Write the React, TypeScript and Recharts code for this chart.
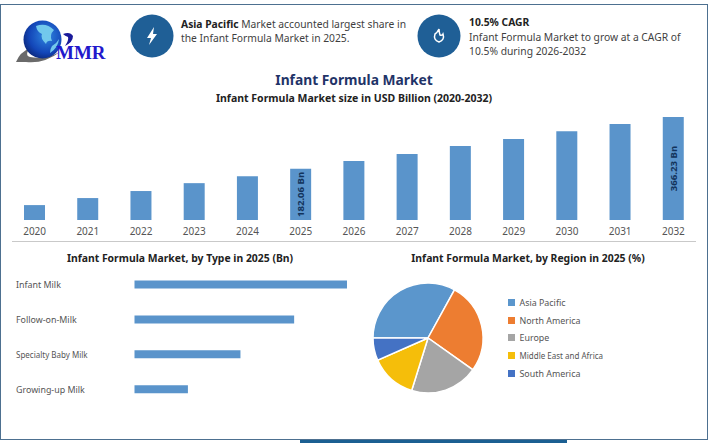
import {
  Bar,
  BarChart,
  Cell,
  LabelList,
  Legend,
  Pie,
  PieChart,
  XAxis,
  YAxis,
} from "recharts";

const years = ["2020", "2021", "2022", "2023", "2024", "2025", "2026", "2027", "2028", "2029", "2030", "2031", "2032"];
const marketSize = [53, 78, 103, 131, 156, 182.06, 210, 235, 263, 288, 316, 341, 366.23];
const sizeLabels = ["", "", "", "", "", "182.06 Bn", "", "", "", "", "", "", "366.23 Bn"];

const types = ["Infant Milk", "Follow-on-Milk", "Specialty Baby Milk", "Growing-up Milk"];
const typeValues = [72.8, 54.7, 36.3, 18.3];

const regions = ["Asia Pacific", "North America", "Europe", "Middle East and Africa", "South America"];
const regionShares = [33, 26.8, 20, 13.6, 6.6];
const regionColors = ["#5B96CC", "#ED7D31", "#A5A5A5", "#F5BE0A", "#4472C4"];

const FONT = "'Noto Sans', sans-serif";
const BAR_COLOR = "#5A94CB";

const sizeData = years.map((year, i) => ({ year, value: marketSize[i], label: sizeLabels[i] }));
const typeData = types.map((name, i) => ({ name, value: typeValues[i] }));
const regionData = regions.map((name, i) => ({ name, value: regionShares[i] }));

// the long labels are squeezed a bit in the original
const labelSize = (text: string) => (text.length > 18 ? 8 : 8.9);

function Txt({ x, y, size, weight, color, center, children }: any) {
  return (
    <div
      style={{
        position: "absolute",
        left: x,
        top: y,
        fontSize: size,
        fontWeight: weight ?? 400,
        color: color ?? "#3f3f3f",
        whiteSpace: "nowrap",
        lineHeight: 1,
        transform: center ? "translateX(-50%)" : undefined,
      }}
    >
      {children}
    </div>
  );
}

function TypeTick({ y, payload }: any) {
  return (
    <text x={16} y={y} dy={3} fontSize={labelSize(payload.value)} fontFamily={FONT} fill="#555" textAnchor="start">
      {payload.value}
    </text>
  );
}

function RegionLegend({ payload }: any) {
  return (
    <div>
      {(payload ?? []).map((item: any) => (
        <div key={item.value} style={{ display: "flex", alignItems: "center", height: 17.7, fontSize: labelSize(item.value), color: "#555" }}>
          <span style={{ width: 7, height: 7, background: item.color, marginRight: 4.5 }} />
          {item.value}
        </div>
      ))}
    </div>
  );
}

function SizeLabel({ x, y, width, height, value }: any) {
  if (!value) return null;
  const cx = x + width / 2;
  const cy = y + height / 2;
  return (
    <text
      x={cx}
      y={cy}
      dy={3.5}
      transform={`rotate(-90 ${cx} ${cy})`}
      textAnchor="middle"
      fontSize={9.6}
      fontWeight={700}
      fontFamily={FONT}
      fill="#12335c"
    >
      {value}
    </text>
  );
}

function Logo() {
  return (
    <svg width={110} height={70} style={{ position: "absolute", left: 0, top: 10 }}>
      <defs>
        <radialGradient id="globe" cx="0.6" cy="0.4" r="0.75">
          <stop offset="0" stopColor="#2f86e0" />
          <stop offset="0.6" stopColor="#1346b8" />
          <stop offset="1" stopColor="#081a60" />
        </radialGradient>
      </defs>
      <path d="M16 52 Q20 42 30 38 Q24 46 30 47 Q44 50 60 42 Q44 54 26 52 Q20 52 16 52Z" fill="#6a6a6a" />
      <circle cx={42.5} cy={29.5} r={19} fill="url(#globe)" />
      <path d="M36 16 Q46 12 54 20 Q49 25 52 31 Q47 30 46 34 Q40 28 42 24 Q37 22 36 16Z" fill="#72c8ec" />
      <path d="M52 36 Q57 33 59 29 Q58 38 50 43 Q50 39 52 36Z" fill="#72c8ec" />
      <path d="M63 24 Q70 21 73 26 Q73 32 65 36 Q69 30 68 27 Q65 26 63 24Z" fill="#1a1a9a" />
      <text x={56} y={49} fontFamily="'Liberation Serif', serif" fontWeight={700} fontSize={19} fill="#2218cc">
        MMR
      </text>
    </svg>
  );
}

export default function App() {
  return (
    <div style={{ position: "absolute", left: 0, top: 0, width: 711, height: 443, overflow: "hidden", background: "#fff", fontFamily: FONT }}>
      <div style={{ position: "absolute", left: 0, top: 4, width: 706, height: 434, border: "1.5px solid #4d7090" }} />
      <div style={{ position: "absolute", left: 300, top: 440, width: 267, height: 6, background: "#1b5f92" }} />
      <div style={{ position: "absolute", left: 12, top: 241, width: 684, height: 1, background: "#c9c9c9" }} />

      <Logo />

      <svg width={711} height={70} style={{ position: "absolute", left: 0, top: 0 }}>
        <circle cx={152} cy={36} r={21.5} fill="#1f5f96" />
        <path d="M154 27 L147 38 L151 38 L149 45 L157 34 L153 34 Z" fill="#fff" />
        <circle cx={439} cy={36} r={21.5} fill="#1f5f96" />
        <path d="M439 29 Q437 33 435 34 Q433 40 439 42 Q445 40 443 34 Q442 36 440 35 Q439 32 439 29Z" fill="none" stroke="#fff" strokeWidth={1.5} />
      </svg>

      <Txt x={181} y={18.5} size={10.3}><b style={{ color: "#222" }}>Asia Pacific</b> Market accounted largest share in</Txt>
      <Txt x={181} y={33} size={10.3}>the Infant Formula Market in 2025.</Txt>
      <Txt x={469} y={17} size={10.3} weight={700} color="#222">10.5% CAGR</Txt>
      <Txt x={469} y={32} size={10.3}>Infant Formula Market to grow at a CAGR of</Txt>
      <Txt x={469} y={45.5} size={10.3}>10.5% during 2026-2032</Txt>

      <Txt x={354} y={73} size={13.8} weight={700} color="#1f3468" center>Infant Formula Market</Txt>
      <Txt x={354} y={93} size={10.5} weight={700} color="#222" center>Infant Formula Market size in USD Billion (2020-2032)</Txt>
      <Txt x={180} y={253} size={10.4} weight={700} color="#222" center>Infant Formula Market, by Type in 2025 (Bn)</Txt>
      <Txt x={528} y={253} size={10.4} weight={700} color="#222" center>Infant Formula Market, by Region in 2025 (%)</Txt>

      <div style={{ position: "absolute", left: 0, top: 100 }}>
        <BarChart width={711} height={145} data={sizeData} margin={{ top: 7.5, right: 11, bottom: 0, left: 8 }} barSize={21}>
          <XAxis
            dataKey="year"
            height={25}
            axisLine={false}
            tickLine={false}
            interval={0}
            tick={{ fontSize: 10, fontFamily: FONT, fill: "#555" }}
          />
          <YAxis hide domain={[0, 400]} />
          <Bar dataKey="value" fill={BAR_COLOR} isAnimationActive={false}>
            <LabelList dataKey="label" content={<SizeLabel />} />
          </Bar>
        </BarChart>
      </div>

      <div style={{ position: "absolute", left: 0, top: 260 }}>
        <BarChart
          layout="vertical"
          width={380}
          height={155}
          data={typeData}
          margin={{ top: 7.5, right: 12, bottom: 8, left: 0 }}
          barSize={8}
        >
          <XAxis type="number" hide domain={[0, 80]} />
          <YAxis type="category" dataKey="name" width={134.5} axisLine={false} tickLine={false} interval={0} tick={<TypeTick />} />
          <Bar dataKey="value" fill={BAR_COLOR} isAnimationActive={false} />
        </BarChart>
      </div>

      <div style={{ position: "absolute", left: 353, top: 263 }}>
        <PieChart width={320} height={150} margin={{ top: 0, right: 0, bottom: 0, left: 0 }}>
          <Pie
            data={regionData}
            dataKey="value"
            nameKey="name"
            cx={75}
            cy={75}
            outerRadius={55}
            startAngle={180}
            endAngle={-180}
            stroke="#fff"
            strokeWidth={1.5}
            isAnimationActive={false}
          >
            {regionData.map((_, i) => (
              <Cell key={i} fill={regionColors[i]} />
            ))}
          </Pie>
          <Legend
            layout="vertical"
            itemSorter={null}
            content={<RegionLegend />}
            wrapperStyle={{ left: 155, top: 30.5, width: 160 }}
          />
        </PieChart>
      </div>
    </div>
  );
}
